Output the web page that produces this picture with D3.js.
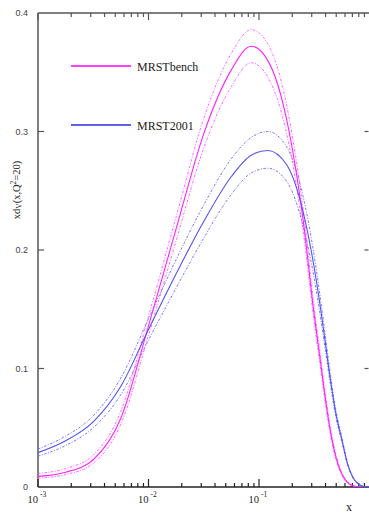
<!DOCTYPE html>
<html><head><meta charset="utf-8">
<script src="https://cdn.jsdelivr.net/npm/d3@7"></script>
<style>body{margin:0;background:#fff;}svg{display:block;}</style>
</head><body>
<svg id="chart" width="369" height="513"></svg>
<script>
// x grid (log-spaced)
const xValues = [0.001, 0.00178, 0.00316, 0.00562, 0.01, 0.0178, 0.0316, 0.0562, 0.085, 0.12, 0.178, 0.251, 0.316, 0.355, 0.398, 0.447, 0.501, 0.562, 0.631, 0.708, 0.794, 0.891, 1.0];
const benchCentral = [0.009, 0.0125, 0.023, 0.058, 0.136, 0.218, 0.298, 0.352, 0.372, 0.36, 0.31, 0.225, 0.145, 0.11, 0.075, 0.045, 0.024, 0.011, 0.004, 0.001, 0.0002, 0, 0];
const benchUpper   = [0.0115, 0.0155, 0.027, 0.064, 0.144, 0.228, 0.311, 0.366, 0.386, 0.374, 0.322, 0.234, 0.151, 0.115, 0.079, 0.048, 0.026, 0.012, 0.0045, 0.0012, 0.0002, 0, 0];
const benchLower   = [0.0075, 0.0105, 0.020, 0.053, 0.128, 0.208, 0.286, 0.338, 0.358, 0.346, 0.298, 0.216, 0.139, 0.105, 0.071, 0.042, 0.022, 0.010, 0.0035, 0.0008, 0.0001, 0, 0];
const m2001Central = [0.029, 0.039, 0.055, 0.085, 0.133, 0.180, 0.224, 0.262, 0.280, 0.284, 0.272, 0.232, 0.185, 0.155, 0.122, 0.088, 0.060, 0.040, 0.020, 0.008, 0.0025, 0.0003, 0];
const m2001Upper   = [0.032, 0.043, 0.060, 0.092, 0.142, 0.192, 0.238, 0.277, 0.295, 0.300, 0.287, 0.245, 0.195, 0.163, 0.128, 0.092, 0.063, 0.042, 0.021, 0.0085, 0.0027, 0.0003, 0];
const m2001Lower   = [0.026, 0.035, 0.050, 0.078, 0.124, 0.168, 0.210, 0.247, 0.265, 0.269, 0.258, 0.220, 0.176, 0.147, 0.116, 0.084, 0.057, 0.038, 0.019, 0.0075, 0.0023, 0.0003, 0];
const yTicks = [0, 0.1, 0.2, 0.3, 0.4];
const yTickLabels = ["0", "0.1", "0.2", "0.3", "0.4"];
const xDecades = [0.001, 0.01, 0.1];
const xDecadeExp = ["-3", "-2", "-1"];
const seriesNames = ["MRSTbench", "MRST2001"];

const svg = d3.select("#chart");
const L = 38, R = 369.5, T = 13, B = 487;
const x = d3.scaleLog().domain([0.001, 1]).range([L, R]);
const y = d3.scaleLinear().domain([0, 0.4]).range([B, T]);

const axisCol = "#555";
const g = svg.append("g");

// curves
svg.append("clipPath").attr("id","clip").append("rect").attr("x",L).attr("y",T).attr("width",R-L).attr("height",B-T);
const line = d3.line().x((d,i)=>x(xValues[i])).y(d=>y(d)).curve(d3.curveMonotoneX);
const curves = [
  {d: benchUpper, c: "#ff66ff", dash: "2.5,1.5,1,1.5", w: 1},
  {d: benchLower, c: "#ff66ff", dash: "2.5,1.5,1,1.5", w: 1},
  {d: m2001Upper, c: "#7777ff", dash: "2.5,1.5,1,1.5", w: 1},
  {d: m2001Lower, c: "#7777ff", dash: "2.5,1.5,1,1.5", w: 1},
  {d: benchCentral, c: "#ff22ff", dash: null, w: 1.1},
  {d: m2001Central, c: "#5252f5", dash: null, w: 1.1}
];
const cg = svg.append("g").attr("clip-path","url(#clip)");
curves.forEach(s=>{
  cg.append("path").attr("d", line(s.d)).attr("fill","none").attr("stroke",s.c)
    .attr("stroke-width",s.w).attr("stroke-dasharray",s.dash);
});

// frame
g.append("line").attr("x1",L).attr("x2",L).attr("y1",T).attr("y2",B).attr("stroke",axisCol).attr("stroke-width",1.5);
g.append("line").attr("x1",L).attr("x2",R).attr("y1",T).attr("y2",T).attr("stroke",axisCol).attr("stroke-width",1.5);
g.append("line").attr("x1",L).attr("x2",R).attr("y1",B).attr("y2",B).attr("stroke","#222").attr("stroke-width",1.5);

// x ticks
const minor = [];
xDecades.forEach(d=>{ for(let k=2;k<=9;k++) minor.push(d*k); });
xDecades.forEach(v=>{
  g.append("line").attr("x1",x(v)).attr("x2",x(v)).attr("y1",B).attr("y2",B-8).attr("stroke","#222").attr("stroke-width",1.2);
  g.append("line").attr("x1",x(v)).attr("x2",x(v)).attr("y1",T).attr("y2",T+7).attr("stroke",axisCol).attr("stroke-width",1.2);
});
minor.forEach(v=>{
  g.append("line").attr("x1",x(v)).attr("x2",x(v)).attr("y1",B).attr("y2",B-4).attr("stroke","#222").attr("stroke-width",1.2);
  g.append("line").attr("x1",x(v)).attr("x2",x(v)).attr("y1",T).attr("y2",T+4).attr("stroke",axisCol).attr("stroke-width",1.2);
});
// x labels
xDecades.forEach((v,i)=>{
  g.append("text").attr("x",x(v)).attr("y",503).attr("text-anchor","end")
    .attr("font-family","Liberation Serif, Times New Roman, serif").attr("font-size",10.5).attr("fill","#222").text("10");
  g.append("text").attr("x",x(v)+2).attr("y",497).attr("font-family","Liberation Serif, serif").attr("font-size",7.5).attr("fill","#222").text(xDecadeExp[i]);
});
g.append("text").attr("x",349).attr("y",511).attr("text-anchor","middle").attr("font-family","Liberation Serif, serif").attr("font-size",12).attr("fill","#222").text("x");

// y ticks
yTicks.forEach((v,i)=>{
  if(v>0 && v<0.4){
    g.append("line").attr("x1",L).attr("x2",L+6).attr("y1",y(v)).attr("y2",y(v)).attr("stroke",axisCol).attr("stroke-width",1.2);
    g.append("line").attr("x1",R-1).attr("x2",R-5).attr("y1",y(v)).attr("y2",y(v)).attr("stroke",axisCol).attr("stroke-width",1.2);
  }
  g.append("text").attr("x",28).attr("y",y(v)+3).attr("text-anchor","end")
    .attr("font-family","Liberation Sans, Arial, sans-serif").attr("font-size",9).attr("fill","#444").text(yTickLabels[i]);
});

// y label
const yl = g.append("text").attr("transform","translate(20,190) rotate(-90)").attr("text-anchor","middle")
  .attr("font-family","Liberation Serif, serif").attr("font-size",10.5).attr("fill","#222");
yl.append("tspan").text("xd");
yl.append("tspan").attr("font-size",7.5).attr("dy",2).text("V");
yl.append("tspan").attr("dy",-2).text("(x,Q");
yl.append("tspan").attr("font-size",7.5).attr("dy",-4).text("2");
yl.append("tspan").attr("dy",4).text("=20)");

// legend
const legCols = ["#ff00ff", "#2a2ae0"];
const legY = [66, 125];
seriesNames.forEach((n,i)=>{
  g.append("line").attr("x1",71).attr("x2",131).attr("y1",legY[i]).attr("y2",legY[i]).attr("stroke",legCols[i]).attr("stroke-width",1.3);
  g.append("text").attr("x",137).attr("y",legY[i]+5).attr("font-family","Liberation Serif, serif").attr("font-size",12).attr("fill","#222").text(n);
});
</script>
</body></html>
